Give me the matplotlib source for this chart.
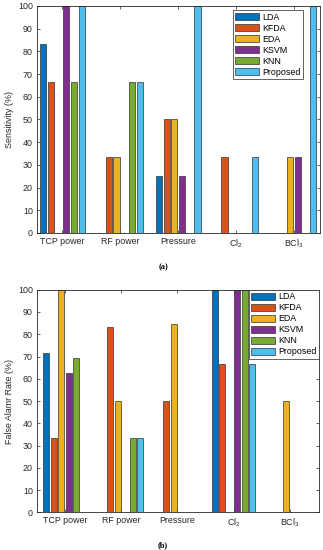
import numpy as np
import matplotlib
matplotlib.use("Agg")
import matplotlib.pyplot as plt

plt.rcParams['font.family'] = ['Liberation Sans', 'DejaVu Sans']
plt.rcParams['mathtext.fontset'] = 'custom'
plt.rcParams['mathtext.rm'] = 'Liberation Sans'
plt.rcParams['mathtext.it'] = 'Liberation Sans'

categories = ['TCP power', 'RF power', 'Pressure', 'Cl$_2$', 'BCl$_3$']
methods = ['LDA', 'KFDA', 'EDA', 'KSVM', 'KNN', 'Proposed']
colors = ['#0072BD', '#D95319', '#EDB120', '#7E2F8E', '#77AC30', '#4DBEEE']

# Sensitivity (%) per method, across categories
sens_lda = [83.3, 0, 25, 0, 0]
sens_kfda = [66.7, 33.3, 50, 33.3, 0]
sens_eda = [0, 33.3, 50, 0, 33.3]
sens_ksvm = [100, 0, 25, 0, 33.3]
sens_knn = [66.7, 66.7, 0, 0, 0]
sens_prop = [100, 66.7, 100, 33.3, 100]

# False alarm rate (%)
far_lda = [71.4, 0, 0, 100, 0]
far_kfda = [33.3, 83.3, 50, 66.7, 0]
far_eda = [100, 50, 84.6, 0, 50]
far_ksvm = [62.5, 0, 0, 100, 0]
far_knn = [69.2, 33.3, 0, 100, 0]
far_prop = [0, 33.3, 0, 66.7, 0]

sens = [sens_lda, sens_kfda, sens_eda, sens_ksvm, sens_knn, sens_prop]
far = [far_lda, far_kfda, far_eda, far_ksvm, far_knn, far_prop]

fig = plt.figure(figsize=(3.23, 5.50), dpi=100)
ax1 = fig.add_axes([0.1146, 0.5764, 0.8761, 0.4127])
ax2 = fig.add_axes([0.1146, 0.0685, 0.8730, 0.4047])

FS = 6.4
x = np.arange(1, len(categories) + 1)
n = len(methods)
gw = 0.8
step = gw / n
bw = step * 0.8


def draw(ax, data, ylabel, xlim, leg_anchor):
    for i, (vals, c, m) in enumerate(zip(data, colors, methods)):
        off = -gw / 2 + (2 * i + 1) * gw / (2 * n)
        ax.bar(x + off, vals, width=bw, color=c, edgecolor='#333333',
               linewidth=0.5, label=m, zorder=2)
    ax.set_xlim(*xlim)
    ax.set_ylim(0, 100)
    ax.set_yticks(np.arange(0, 101, 10))
    ax.set_xticks(x)
    ax.set_xticklabels(categories)
    ax.tick_params(direction='in', length=2, width=0.5, labelsize=FS,
                   top=True, right=True, colors='#262626', pad=3)
    for s in ax.spines.values():
        s.set_linewidth(0.6)
        s.set_color('#262626')
    ax.set_ylabel(ylabel, fontsize=FS, color='#262626', labelpad=3)
    leg = ax.legend(loc='upper right', bbox_to_anchor=leg_anchor,
                    fontsize=FS, frameon=True, fancybox=False,
                    edgecolor='#262626', framealpha=1, borderaxespad=0,
                    handlelength=2.7, handleheight=0.85, labelspacing=0.22,
                    handletextpad=0.3, borderpad=0.3)
    leg.get_frame().set_linewidth(0.5)


draw(ax1, sens, 'Sensitivity (%)', (0.56, 5.45), (0.94, 0.982))
draw(ax2, far, 'False Alamr Rate (%)', (0.50, 5.52), (1.0, 1.0))

fig.text(0.505, 1 - 267 / 550, '(a)', ha='center', va='center',
         fontsize=6, family=['Liberation Serif'], weight='bold')
fig.text(0.505, 1 - 545 / 550, '(b)', ha='center', va='center',
         fontsize=6, family=['Liberation Serif'], weight='bold')

fig.savefig('out.png', dpi=100)
